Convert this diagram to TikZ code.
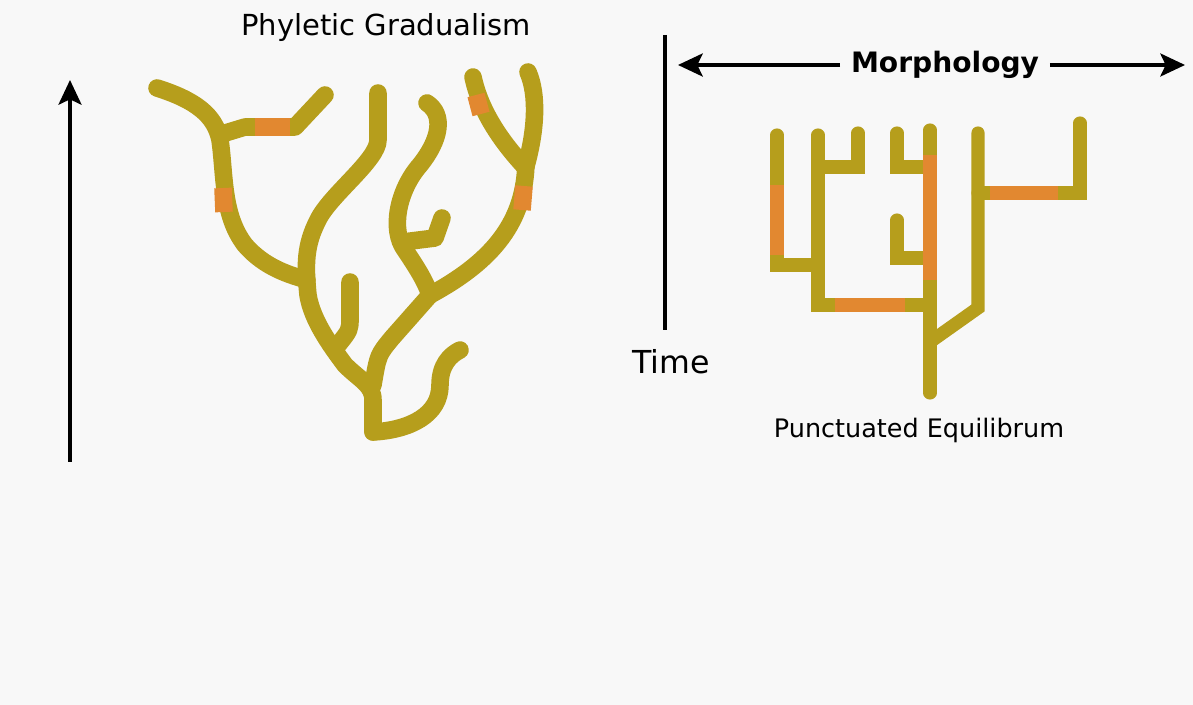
\documentclass[tikz,border=0pt]{standalone}
\usepackage{fontspec}
\setmainfont{DejaVu Sans}
\usepackage{tikz}
\usetikzlibrary{arrows.meta, positioning}
\usepackage{xcolor}
\definecolor{cBack}{RGB}{248,248,248}
\definecolor{cGold}{RGB}{182,158,28}
\definecolor{cOrange}{RGB}{226,136,48}
\tikzset{
  gradline/.style={draw=cGold, line width=10pt, line cap=round, line join=round},
  gradorange/.style={draw=cOrange, line width=10pt},
  puncline/.style={draw=cGold, line width=7.5pt, line cap=round, line join=miter},
  puncorange/.style={draw=cOrange, line width=7.5pt},
  axis/.style={draw=black, line width=2.3pt},
  axisarrow/.style={axis, -{Stealth[length=14pt, width=13pt, inset=3pt]}},
  labeltext/.style={inner sep=2pt, text=black},
  morphlabel/.style={labeltext, fill=cBack, inner sep=6pt,
                     font=\bfseries\fontsize{16}{19}\selectfont},
  timelabel/.style={labeltext, font=\fontsize{18}{21}\selectfont},
  titlelabel/.style={labeltext, font=\fontsize{16.5}{19}\selectfont},
  punclabel/.style={labeltext, font=\fontsize{14.5}{17}\selectfont}
}

\begin{document}
\begin{tikzpicture}[x=0.02cm, y=-0.02cm]
  \path[use as bounding box, fill=cBack] (0,0) rectangle (1193,705);

  % phyletic gradualism
  \node[titlelabel] (pgtitle) at (386,28) {Phyletic Gradualism};
  \coordinate (pgbot) at (70,462);
  \coordinate (pgtop) at (70,80);
  \draw[axisarrow] (pgbot) -- (pgtop);

  \draw[gradline] (157,88) .. controls (195,100) and (215,115) .. (220,140)
    .. controls (225,175) and (222,215) .. (245,245)
    .. controls (265,268) and (290,275) .. (307,280);
  \draw[gradline] (222,134) -- (245,127) -- (295,127) -- (325,95);
  \draw[gradline] (378,93) -- (378,140) .. controls (378,160) and (330,195) .. (318,220)
    .. controls (305,245) and (305,265) .. (308,295)
    .. controls (312,320) and (330,345) .. (345,365)
    .. controls (360,380) and (373,385) .. (373,400) -- (373,432);
  \draw[gradline] (350,282) -- (350,318) .. controls (350,330) .. (338,345);
  \draw[gradline] (373,432) .. controls (410,430) and (440,415) .. (440,385)
    .. controls (440,365) and (450,355) .. (460,350);
  \draw[gradline] (473,77) .. controls (480,110) and (500,140) .. (524,166);
  \draw[gradline] (528,72) .. controls (538,95) and (536,130) .. (526,166);
  \draw[gradline] (526,162) .. controls (525,220) and (495,260) .. (430,295);
  \draw[gradline] (427,103) .. controls (445,115) and (440,140) .. (420,165)
    .. controls (398,190) and (390,230) .. (405,250)
    .. controls (415,265) and (425,280) .. (430,295);
  \draw[gradline] (403,242) -- (435,238) -- (442,218);
  \draw[gradline] (430,295) -- (392,338) .. controls (378,355) .. (373,385);
  % orange stretches
  \draw[gradorange] (223,188) -- (224,212);
  \draw[gradorange] (255,127) -- (290,127);
  \draw[gradorange] (476,95) -- (481,114);
  \draw[gradorange] (524,186) -- (522,210);

  % punctuated equilibrium
  \node[morphlabel] (morph) at (945,65) {Morphology};
  \coordinate (mleft) at (678,65);
  \coordinate (mright) at (1185,65);
  \foreach \tip in {mleft, mright}
    \draw[axisarrow] (morph) -- (\tip);
  \coordinate (timetop) at (665,35);
  \coordinate (timebot) at (665,330);
  \draw[axis] (timetop) -- (timebot);
  \node[timelabel] (time) at (671,362) {Time};
  \node[punclabel] (pelabel) at (919,430) {Punctuated Equilibrum};

  \draw[puncline] (930,130) -- (930,393);
  \draw[puncline] (930,342) -- (978,308) -- (978,133);
  \draw[puncline] (978,193) -- (1080,193) -- (1080,123);
  \draw[puncline] (777,135) -- (777,265) -- (818,265);
  \draw[puncline] (818,135) -- (818,305) -- (930,305);
  \draw[puncline] (818,167) -- (858,167) -- (858,133);
  \draw[puncline] (897,133) -- (897,167) -- (930,167);
  \draw[puncline] (897,220) -- (897,258) -- (930,258);
  \draw[puncorange] (777,185) -- (777,255);
  \draw[puncorange] (835,305) -- (905,305);
  \draw[puncorange] (930,155) -- (930,280);
  \draw[puncorange] (990,193) -- (1058,193);
\end{tikzpicture}
\end{document}
